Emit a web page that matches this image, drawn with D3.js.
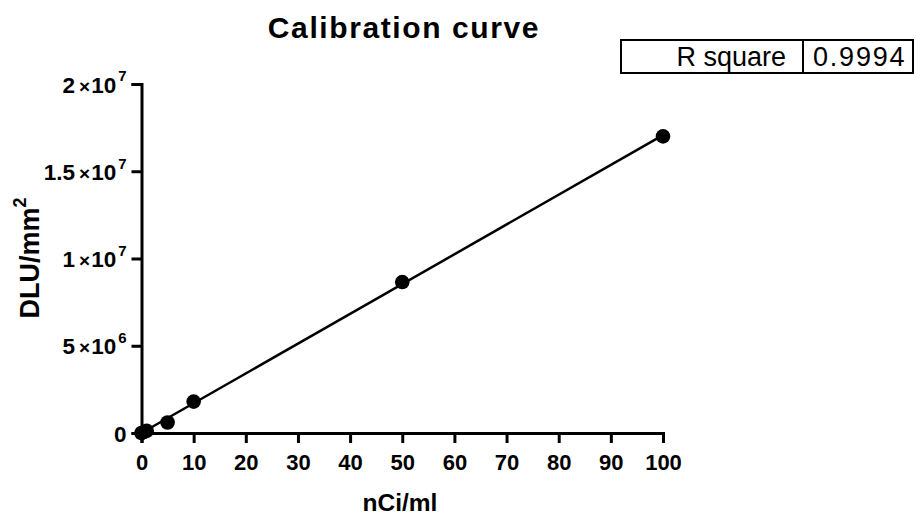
<!DOCTYPE html>
<html><head><meta charset="utf-8">
<script src="https://cdn.jsdelivr.net/npm/d3@7"></script>
<style>
body{margin:0;background:#fff;}
svg{font-family:"Liberation Sans",Arial,sans-serif;}
</style></head>
<body>
<svg id="c" width="916" height="516"></svg>
<script>
const xValues = [0, 0.5, 1, 5, 10, 50, 100];
const yValues = [0, 60000, 120000, 600000, 1800000, 8650000, 17000000];
const xTicks = [0,10,20,30,40,50,60,70,80,90,100];
const yTicks = [0, 5e6, 1e7, 1.5e7, 2e7];
const yTickMantissa = ["0","5","1","1.5","2"];
const yTickExponent = ["","6","7","7","7"];
const rSquareLabel = "R square";
const rSquareValue = "0.9994";

const svg = d3.select("#c");
const x = d3.scaleLinear().domain([0,100]).range([141.5,663]);
const y = d3.scaleLinear().domain([0,2e7]).range([433,84]);
const FF = "Liberation Sans, Arial, sans-serif";

// title
svg.append("text").attr("x",404).attr("y",38).attr("text-anchor","middle")
  .attr("font-weight","bold").attr("font-size",30).attr("letter-spacing",1.6).text("Calibration curve");

// x axis
const gx = svg.append("g").attr("transform","translate(0,433)")
  .call(d3.axisBottom(x).tickValues(xTicks).tickSize(10).tickPadding(5).tickFormat(d3.format("d")));
gx.select(".domain").attr("stroke","#000").attr("stroke-width",3);
gx.selectAll(".tick line").attr("stroke","#000").attr("stroke-width",3);
gx.selectAll(".tick text").attr("font-size",22).attr("font-weight","bold").attr("fill","#000")
  .attr("font-family",FF).attr("y",37).attr("dy",0);

// y axis
const gy = svg.append("g").attr("transform","translate(141.5,0)")
  .call(d3.axisLeft(y).tickValues(yTicks).tickSize(10).tickPadding(4).tickFormat(""));
gy.select(".domain").attr("stroke","#000").attr("stroke-width",3);
gy.selectAll(".tick line").attr("stroke","#000").attr("stroke-width",3);
gy.selectAll(".tick text").each(function(d,i){
  const t = d3.select(this).attr("font-size",22.5).attr("font-weight","bold").attr("fill","#000")
    .attr("font-family",FF).attr("dy","0.36em").attr("x",-15);
  t.append("tspan").text(yTickMantissa[i]);
  if (yTickExponent[i]) {
    t.append("tspan").attr("font-size",19).attr("dx",4).text("×");
    t.append("tspan").attr("dx",1).text("10");
    t.append("tspan").attr("font-size",15).attr("dx",2).attr("dy","-0.75em").text(yTickExponent[i]);
  }
});

// axis titles
svg.append("text").attr("x",400).attr("y",511).attr("text-anchor","middle")
  .attr("font-weight","bold").attr("font-size",24.5).text("nCi/ml");
const yl = svg.append("text").attr("transform","translate(39,258) rotate(-90)").attr("text-anchor","middle")
  .attr("font-weight","bold").attr("font-size",27);
yl.append("tspan").text("DLU/mm");
yl.append("tspan").attr("font-size",18).attr("dy","-0.7em").text("2");

// fit line (least squares)
const mx = d3.mean(xValues), my = d3.mean(yValues);
const slope = d3.sum(xValues.map((v,i)=>(v-mx)*(yValues[i]-my))) / d3.sum(xValues.map(v=>(v-mx)*(v-mx)));
const intercept = my - slope*mx;
const fitX = [0, 100];
svg.append("path").attr("d", d3.line().x(d=>x(d)).y(d=>y(Math.max(0,slope*d+intercept)))(fitX))
  .attr("stroke","#000").attr("stroke-width",2.5).attr("fill","none");

// points
svg.selectAll("circle.pt").data(xValues).join("circle").attr("class","pt")
  .attr("cx",(d)=>x(d)).attr("cy",(d,i)=>y(yValues[i])).attr("r",7.3).attr("fill","#000");

// R square table
const tb = svg.append("g");
tb.append("rect").attr("x",621).attr("y",40).attr("width",292).attr("height",33)
  .attr("fill","#fff").attr("stroke","#000").attr("stroke-width",2);
tb.append("line").attr("x1",803).attr("x2",803).attr("y1",40).attr("y2",73).attr("stroke","#000").attr("stroke-width",2);
tb.append("text").attr("x",786).attr("y",66).attr("text-anchor","end").attr("font-size",27).text(rSquareLabel);
tb.append("text").attr("x",813).attr("y",66).attr("font-size",27).attr("letter-spacing",1.8).text(rSquareValue);
</script>
</body></html>
